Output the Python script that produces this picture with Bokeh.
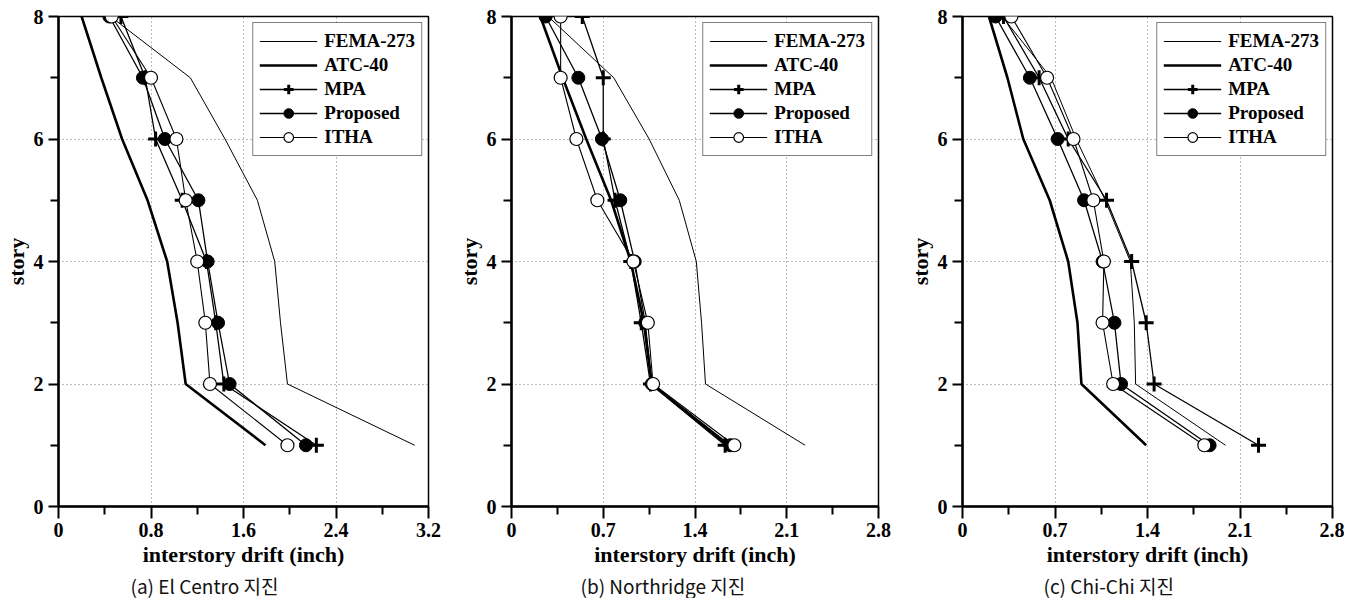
from bokeh.plotting import figure
from bokeh.layouts import row
from bokeh.models import Range1d, FixedTicker, Legend, LegendItem, Title
from bokeh.embed import file_html
from bokeh.resources import INLINE

# ---------------- data ----------------
stories = [1, 2, 3, 4, 5, 6, 7, 8]

# (a) El Centro
a_fema = [3.08, 1.98, 1.92, 1.87, 1.72, 1.44, 1.14, 0.45]
a_atc = [1.79, 1.10, 1.03, 0.94, 0.77, 0.55, 0.37, 0.20]
a_mpa = [2.23, 1.43, 1.36, 1.28, 1.07, 0.84, 0.75, 0.54]
a_prop = [2.14, 1.48, 1.38, 1.29, 1.21, 0.92, 0.73, 0.44]
a_itha = [1.98, 1.31, 1.27, 1.20, 1.10, 1.02, 0.80, 0.46]

# (b) Northridge
b_fema = [2.24, 1.48, 1.45, 1.41, 1.28, 1.05, 0.78, 0.28]
b_atc = [1.65, 1.07, 1.01, 0.91, 0.76, 0.57, 0.39, 0.22]
b_mpa = [1.63, 1.06, 0.99, 0.91, 0.79, 0.70, 0.70, 0.54]
b_prop = [1.67, 1.07, 1.02, 0.94, 0.83, 0.69, 0.51, 0.26]
b_itha = [1.70, 1.08, 1.04, 0.93, 0.655, 0.495, 0.375, 0.375]

# (c) Chi-Chi
c_fema = [1.99, 1.31, 1.30, 1.27, 1.08, 0.86, 0.67, 0.30]
c_atc = [1.39, 0.90, 0.87, 0.80, 0.66, 0.46, 0.34, 0.20]
c_mpa = [2.24, 1.45, 1.39, 1.28, 1.09, 0.80, 0.58, 0.31]
c_prop = [1.87, 1.20, 1.15, 1.06, 0.92, 0.72, 0.51, 0.25]
c_itha = [1.83, 1.14, 1.06, 1.07, 0.99, 0.84, 0.64, 0.37]

series_names = ["FEMA-273", "ATC-40", "MPA", "Proposed", "ITHA"]

a_xticks = [0, 0.8, 1.6, 2.4, 3.2]
a_xtick_labels = ["0", "0.8", "1.6", "2.4", "3.2"]
a_xminor = [0.4, 1.2, 2.0, 2.8]
b_xticks = [0, 0.7, 1.4, 2.1, 2.8]
b_xtick_labels = ["0", "0.7", "1.4", "2.1", "2.8"]
b_xminor = [0.35, 1.05, 1.75, 2.45]

y_ticks = [0, 2, 4, 6, 8]
y_minor = [1, 3, 5, 7]

captions = ["(a) El Centro 지진", "(b) Northridge 지진", "(c) Chi-Chi 지진"]
x_title = "interstory drift (inch)"
y_title = "story"

SERIF = "Liberation Serif"

panels = [
    dict(fema=a_fema, atc=a_atc, mpa=a_mpa, prop=a_prop, itha=a_itha,
         xmax=3.2, xticks=a_xticks, xlabels=a_xtick_labels, xminor=a_xminor,
         caption=captions[0], width=453, right=25, cap_off=72),
    dict(fema=b_fema, atc=b_atc, mpa=b_mpa, prop=b_prop, itha=b_itha,
         xmax=2.8, xticks=b_xticks, xlabels=b_xtick_labels, xminor=b_xminor,
         caption=captions[1], width=451, right=26, cap_off=69),
    dict(fema=c_fema, atc=c_atc, mpa=c_mpa, prop=c_prop, itha=c_itha,
         xmax=2.8, xticks=b_xticks, xlabels=b_xtick_labels, xminor=b_xminor,
         caption=captions[2], width=440, right=12, cap_off=81),
]


def make_panel(d):
    p = figure(width=d["width"], height=598,
               x_range=Range1d(0, d["xmax"]), y_range=Range1d(0, 8),
               output_backend="svg", toolbar_location=None,
               min_border_left=50, min_border_right=d["right"],
               min_border_top=16, min_border_bottom=91)
    p.background_fill_color = "white"
    p.border_fill_color = "white"
    p.outline_line_color = "black"
    p.outline_line_width = 1.5

    xt = FixedTicker(ticks=d["xticks"], minor_ticks=d["xminor"])
    yt = FixedTicker(ticks=y_ticks, minor_ticks=y_minor)
    p.xaxis.ticker = xt
    p.yaxis.ticker = yt
    p.xaxis.major_label_overrides = {t: l for t, l in zip(d["xticks"], d["xlabels"])}

    for ax in (p.xaxis[0], p.yaxis[0]):
        ax.axis_line_width = 2.5
        ax.axis_line_color = "black"
        ax.major_tick_line_width = 2
        ax.minor_tick_line_width = 2
        ax.major_tick_in = 0
        ax.minor_tick_in = 0
        ax.major_label_text_font = SERIF
        ax.major_label_text_font_style = "bold"
        ax.major_label_text_font_size = "20px"
        ax.major_label_text_color = "black"
        ax.axis_label_text_font = SERIF
        ax.axis_label_text_font_style = "bold"
        ax.axis_label_text_font_size = "22px"
        ax.axis_label_text_color = "black"
    p.xaxis.major_tick_out = 12
    p.xaxis.minor_tick_out = 8
    p.xaxis.major_label_standoff = 4
    p.xaxis.axis_label_standoff = 2
    p.xaxis.axis_label = x_title
    p.yaxis.major_tick_out = 10
    p.yaxis.minor_tick_out = 8
    p.yaxis.major_label_standoff = 5
    p.yaxis.axis_label_standoff = 2
    p.yaxis.axis_label = y_title

    for g in (p.xgrid[0], p.ygrid[0]):
        g.grid_line_color = "#777777"
        g.grid_line_dash = "1 3"
        g.grid_line_width = 1

    l_fema = p.line(d["fema"], stories, line_color="black", line_width=1)
    l_atc = p.line(d["atc"], stories, line_color="black", line_width=2.6)
    l_mpa = p.line(d["mpa"], stories, line_color="black", line_width=1.3)
    l_prop = p.line(d["prop"], stories, line_color="black", line_width=1.3)
    l_itha = p.line(d["itha"], stories, line_color="black", line_width=1.1)
    s_mpa = p.scatter(d["mpa"], stories, marker="cross", size=15,
                      line_color="black", line_width=3)
    s_prop = p.scatter(d["prop"], stories, marker="circle", size=13,
                       fill_color="black", line_color="black", line_width=1)
    s_itha = p.scatter(d["itha"], stories, marker="circle", size=13,
                       fill_color="white", line_color="black", line_width=1.2)

    items = [
        LegendItem(label=series_names[0], renderers=[l_fema]),
        LegendItem(label=series_names[1], renderers=[l_atc]),
        LegendItem(label=series_names[2], renderers=[l_mpa, s_mpa]),
        LegendItem(label=series_names[3], renderers=[l_prop, s_prop]),
        LegendItem(label=series_names[4], renderers=[l_itha, s_itha]),
    ]
    leg = Legend(items=items, location="top_right")
    leg.glyph_width = 58
    leg.glyph_height = 24
    leg.label_height = 20
    leg.spacing = 0
    leg.label_standoff = 7
    leg.padding = 6
    leg.margin = 6
    leg.label_text_font = SERIF
    leg.label_text_font_style = "bold"
    leg.label_text_font_size = "19px"
    leg.label_text_color = "black"
    leg.border_line_color = "black"
    leg.border_line_width = 1
    leg.background_fill_color = "white"
    leg.background_fill_alpha = 1.0
    p.add_layout(leg)

    cap = Title(text=d["caption"], align="left", offset=d["cap_off"],
                text_font="Noto Sans CJK KR", text_font_size="19px",
                text_font_style="normal", text_color="#111111", standoff=0)
    p.add_layout(cap, "below")
    return p


figs = [make_panel(d) for d in panels]
layout = row(*figs)

open("out.html", "w").write(file_html(layout, INLINE))
